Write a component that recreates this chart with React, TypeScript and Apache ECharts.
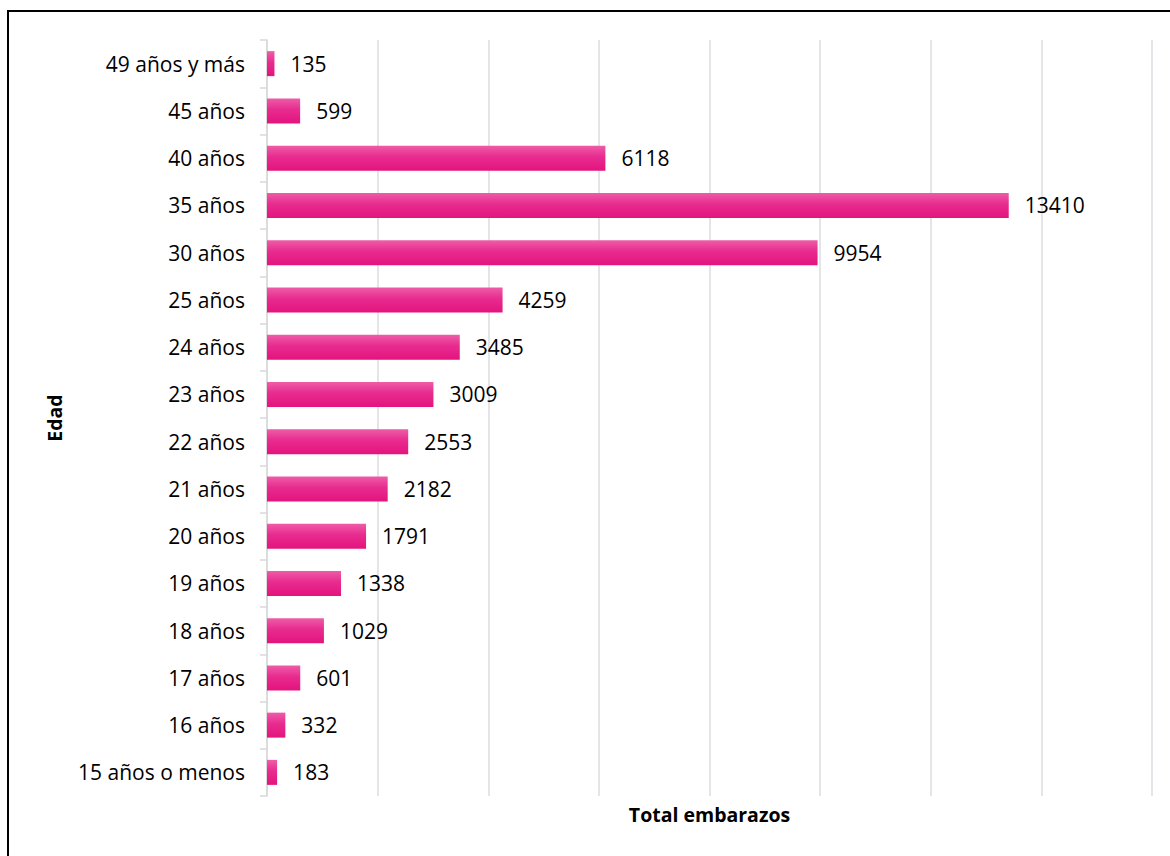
import React, { useEffect, useRef } from "react";
import * as echarts from "echarts";

const categories = [
  "15 años o menos",
  "16 años",
  "17 años",
  "18 años",
  "19 años",
  "20 años",
  "21 años",
  "22 años",
  "23 años",
  "24 años",
  "25 años",
  "30 años",
  "35 años",
  "40 años",
  "45 años",
  "49 años y más",
];
const values = [183, 332, 601, 1029, 1338, 1791, 2182, 2553, 3009, 3485, 4259, 9954, 13410, 6118, 599, 135];
const xAxisName = "Total embarazos";
const yAxisName = "Edad";

const FONT = "'Open Sans', sans-serif";

export default function App() {
  const ref = useRef<HTMLDivElement>(null);
  useEffect(() => {
    if (!ref.current) return;
    const chart = echarts.init(ref.current, undefined, { renderer: "svg" });
    chart.setOption({
      animation: false,
      backgroundColor: "#ffffff",
      grid: { left: 258, right: 23, top: 28, bottom: 68, containLabel: false },
      xAxis: {
        type: "value",
        min: 0,
        max: 16000,
        interval: 2000,
        name: xAxisName,
        nameLocation: "middle",
        nameGap: 8,
        nameTextStyle: { fontFamily: FONT, fontWeight: "bold", fontSize: 19.5, color: "#000" },
        axisLabel: { show: false },
        axisLine: { show: false },
        axisTick: { show: false },
        splitLine: { show: true, lineStyle: { color: "#dddde2", width: 1.5 } },
      },
      yAxis: {
        type: "category",
        data: categories,
        name: yAxisName,
        nameLocation: "middle",
        nameRotate: 90,
        nameGap: 203,
        nameTextStyle: { fontFamily: FONT, fontWeight: "bold", fontSize: 19.5, color: "#000" },
        axisLine: { show: true, lineStyle: { color: "#d9d9d9", width: 1.5 } },
        axisTick: { show: true, length: 7, lineStyle: { color: "#d9d9d9", width: 1.5 } },
        axisLabel: { margin: 22, fontFamily: FONT, fontSize: 21, color: "#000" },
        splitLine: { show: false },
      },
      series: [
        {
          type: "bar",
          data: values,
          barWidth: 25,
          itemStyle: {
            color: new echarts.graphic.LinearGradient(0, 0, 0, 1, [
              { offset: 0, color: "#EE5DA8" },
              { offset: 0.45, color: "#E82B8F" },
              { offset: 1, color: "#E3147E" },
            ]),
          },
          label: {
            show: true,
            position: "right",
            distance: 16,
            fontFamily: FONT,
            fontSize: 21,
            color: "#000",
          },
        },
      ],
    });
    return () => chart.dispose();
  }, []);
  return (
    <div
      style={{
        position: "absolute",
        left: 7,
        top: 10,
        width: 1170,
        height: 856,
        border: "2px solid #000",
        boxSizing: "border-box",
        background: "#fff",
      }}
    >
      <div ref={ref} style={{ width: 1166, height: 852 }} />
    </div>
  );
}
